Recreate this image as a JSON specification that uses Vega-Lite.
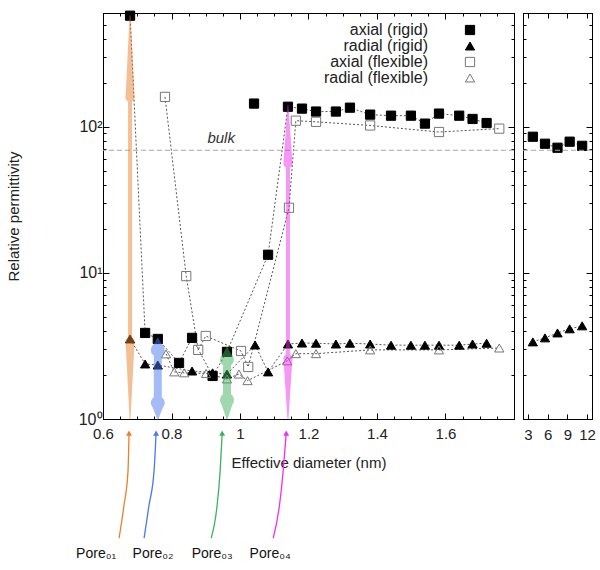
{
  "$schema": "https://vega.github.io/schema/vega-lite/v6.json",
  "padding": {"left": 5, "top": 4, "right": 5, "bottom": 5},
  "config": {
    "font": "Liberation Sans",
    "view": {"stroke": "black", "strokeWidth": 1},
    "axis": {"grid": false, "domainColor": "black", "tickColor": "black", "labelColor": "#222", "labelFontSize": 15, "titleFontSize": 15, "titleFontWeight": "normal", "titleColor": "#222", "labelFont": "Liberation Sans", "titleFont": "Liberation Sans", "labelFlush": false, "labelOverlap": false}
  },
  "datasets": {
    "main": [
      {"series": "axial (rigid)", "d": 0.679, "eps": 575, "seg": 1},
      {"series": "axial (rigid)", "d": 0.723, "eps": 3.88, "seg": 1},
      {"series": "axial (rigid)", "d": 0.76, "eps": 3.53, "seg": 1},
      {"series": "axial (rigid)", "d": 0.822, "eps": 2.42, "seg": 1},
      {"series": "axial (rigid)", "d": 0.86, "eps": 3.59, "seg": 1},
      {"series": "axial (rigid)", "d": 0.92, "eps": 1.97, "seg": 1},
      {"series": "axial (rigid)", "d": 0.962, "eps": 2.88, "seg": 1},
      {"series": "axial (rigid)", "d": 1.041, "eps": 144, "seg": 2},
      {"series": "axial (rigid)", "d": 1.082, "eps": 13.3, "seg": 1},
      {"series": "axial (rigid)", "d": 1.14, "eps": 137, "seg": 1},
      {"series": "axial (rigid)", "d": 1.181, "eps": 133, "seg": 1},
      {"series": "axial (rigid)", "d": 1.222, "eps": 127, "seg": 1},
      {"series": "axial (rigid)", "d": 1.28, "eps": 127, "seg": 1},
      {"series": "axial (rigid)", "d": 1.321, "eps": 135, "seg": 1},
      {"series": "axial (rigid)", "d": 1.38, "eps": 121, "seg": 1},
      {"series": "axial (rigid)", "d": 1.441, "eps": 119, "seg": 1},
      {"series": "axial (rigid)", "d": 1.499, "eps": 119, "seg": 1},
      {"series": "axial (rigid)", "d": 1.54, "eps": 105, "seg": 1},
      {"series": "axial (rigid)", "d": 1.581, "eps": 123, "seg": 1},
      {"series": "axial (rigid)", "d": 1.64, "eps": 119, "seg": 1},
      {"series": "axial (rigid)", "d": 1.679, "eps": 113, "seg": 1},
      {"series": "axial (rigid)", "d": 1.72, "eps": 106, "seg": 1},
      {"series": "radial (rigid)", "d": 0.679, "eps": 3.53, "seg": 1},
      {"series": "radial (rigid)", "d": 0.723, "eps": 2.38, "seg": 1},
      {"series": "radial (rigid)", "d": 0.76, "eps": 2.34, "seg": 1},
      {"series": "radial (rigid)", "d": 0.86, "eps": 2.13, "seg": 1},
      {"series": "radial (rigid)", "d": 0.92, "eps": 2.07, "seg": 1},
      {"series": "radial (rigid)", "d": 0.962, "eps": 2.03, "seg": 1},
      {"series": "radial (rigid)", "d": 1.044, "eps": 3.21, "seg": 1},
      {"series": "radial (rigid)", "d": 1.082, "eps": 2.1, "seg": 1},
      {"series": "radial (rigid)", "d": 1.14, "eps": 3.26, "seg": 1},
      {"series": "radial (rigid)", "d": 1.181, "eps": 3.31, "seg": 1},
      {"series": "radial (rigid)", "d": 1.222, "eps": 3.3, "seg": 1},
      {"series": "radial (rigid)", "d": 1.28, "eps": 3.26, "seg": 1},
      {"series": "radial (rigid)", "d": 1.321, "eps": 3.3, "seg": 1},
      {"series": "radial (rigid)", "d": 1.38, "eps": 3.26, "seg": 1},
      {"series": "radial (rigid)", "d": 1.441, "eps": 3.2, "seg": 1},
      {"series": "radial (rigid)", "d": 1.499, "eps": 3.2, "seg": 1},
      {"series": "radial (rigid)", "d": 1.54, "eps": 3.2, "seg": 1},
      {"series": "radial (rigid)", "d": 1.581, "eps": 3.2, "seg": 1},
      {"series": "radial (rigid)", "d": 1.64, "eps": 3.2, "seg": 1},
      {"series": "radial (rigid)", "d": 1.679, "eps": 3.26, "seg": 1},
      {"series": "radial (rigid)", "d": 1.72, "eps": 3.3, "seg": 1},
      {"series": "axial (flexible)", "d": 0.781, "eps": 160, "seg": 1},
      {"series": "axial (flexible)", "d": 0.843, "eps": 9.5, "seg": 1},
      {"series": "axial (flexible)", "d": 0.878, "eps": 2.97, "seg": 1},
      {"series": "axial (flexible)", "d": 0.9, "eps": 3.7, "seg": 1},
      {"series": "axial (flexible)", "d": 1.003, "eps": 2.92, "seg": 1},
      {"series": "axial (flexible)", "d": 1.024, "eps": 2.27, "seg": 1},
      {"series": "axial (flexible)", "d": 1.143, "eps": 27.9, "seg": 1},
      {"series": "axial (flexible)", "d": 1.163, "eps": 110, "seg": 1},
      {"series": "axial (flexible)", "d": 1.222, "eps": 108, "seg": 1},
      {"series": "axial (flexible)", "d": 1.38, "eps": 102, "seg": 1},
      {"series": "axial (flexible)", "d": 1.581, "eps": 92, "seg": 1},
      {"series": "axial (flexible)", "d": 1.757, "eps": 97, "seg": 1},
      {"series": "radial (flexible)", "d": 0.784, "eps": 2.79, "seg": 1},
      {"series": "radial (flexible)", "d": 0.808, "eps": 2.1, "seg": 1},
      {"series": "radial (flexible)", "d": 0.837, "eps": 2.07, "seg": 1},
      {"series": "radial (flexible)", "d": 0.901, "eps": 2.05, "seg": 1},
      {"series": "radial (flexible)", "d": 0.962, "eps": 1.88, "seg": 1},
      {"series": "radial (flexible)", "d": 0.997, "eps": 2.03, "seg": 1},
      {"series": "radial (flexible)", "d": 1.022, "eps": 1.83, "seg": 1},
      {"series": "radial (flexible)", "d": 1.138, "eps": 2.5, "seg": 1},
      {"series": "radial (flexible)", "d": 1.163, "eps": 2.8, "seg": 1},
      {"series": "radial (flexible)", "d": 1.222, "eps": 2.8, "seg": 1},
      {"series": "radial (flexible)", "d": 1.38, "eps": 2.97, "seg": 1},
      {"series": "radial (flexible)", "d": 1.581, "eps": 2.97, "seg": 1},
      {"series": "radial (flexible)", "d": 1.757, "eps": 3.06, "seg": 1}
    ],
    "wide": [
      {"series": "axial (rigid)", "d": 3.75, "eps": 85.4},
      {"series": "axial (rigid)", "d": 5.6, "eps": 76.5},
      {"series": "axial (rigid)", "d": 7.5, "eps": 71.8},
      {"series": "axial (rigid)", "d": 9.35, "eps": 79},
      {"series": "axial (rigid)", "d": 11.25, "eps": 74},
      {"series": "radial (rigid)", "d": 3.75, "eps": 3.37},
      {"series": "radial (rigid)", "d": 5.6, "eps": 3.59},
      {"series": "radial (rigid)", "d": 7.5, "eps": 3.88},
      {"series": "radial (rigid)", "d": 9.35, "eps": 4.14},
      {"series": "radial (rigid)", "d": 11.25, "eps": 4.34}
    ],
    "arrows": [
      {"pore": "Pore01", "d": 0.679, "eps": 575, "part": "tip", "k": 1},
      {"pore": "Pore01", "d": 0.679, "eps": 158, "part": "thin-head", "k": 2},
      {"pore": "Pore01", "d": 0.679, "eps": 150, "part": "thin-shaft", "k": 3},
      {"pore": "Pore01", "d": 0.679, "eps": 3.6, "part": "thin-shaft", "k": 4},
      {"pore": "Pore01", "d": 0.679, "eps": 3.4, "part": "thin-head", "k": 5},
      {"pore": "Pore01", "d": 0.679, "eps": 1, "part": "tip", "k": 6},
      {"pore": "Pore02", "d": 0.76, "eps": 3.6, "part": "tip", "k": 1},
      {"pore": "Pore02", "d": 0.76, "eps": 2.97, "part": "wide-head", "k": 2},
      {"pore": "Pore02", "d": 0.76, "eps": 2.87, "part": "wide-shaft", "k": 3},
      {"pore": "Pore02", "d": 0.76, "eps": 1.33, "part": "wide-shaft", "k": 4},
      {"pore": "Pore02", "d": 0.76, "eps": 1.29, "part": "wide-head", "k": 5},
      {"pore": "Pore02", "d": 0.76, "eps": 1, "part": "tip", "k": 6},
      {"pore": "Pore03", "d": 0.962, "eps": 3.1, "part": "tip", "k": 1},
      {"pore": "Pore03", "d": 0.962, "eps": 2.55, "part": "wide-head", "k": 2},
      {"pore": "Pore03", "d": 0.962, "eps": 2.45, "part": "wide-shaft", "k": 3},
      {"pore": "Pore03", "d": 0.962, "eps": 1.4, "part": "wide-shaft", "k": 4},
      {"pore": "Pore03", "d": 0.962, "eps": 1.35, "part": "wide-head", "k": 5},
      {"pore": "Pore03", "d": 0.962, "eps": 1, "part": "tip", "k": 6},
      {"pore": "Pore04", "d": 1.14, "eps": 140, "part": "tip", "k": 1},
      {"pore": "Pore04", "d": 1.14, "eps": 56, "part": "thin-head", "k": 2},
      {"pore": "Pore04", "d": 1.14, "eps": 54, "part": "thin-shaft", "k": 3},
      {"pore": "Pore04", "d": 1.14, "eps": 2.7, "part": "thin-shaft", "k": 4},
      {"pore": "Pore04", "d": 1.14, "eps": 2.6, "part": "thin-head", "k": 5},
      {"pore": "Pore04", "d": 1.14, "eps": 1, "part": "tip", "k": 6}
    ],
    "pointers": [
      {"pore": "Pore01", "d": 0.647, "eps": 0.153, "k": 1},
      {"pore": "Pore01", "d": 0.661, "eps": 0.254, "k": 2},
      {"pore": "Pore01", "d": 0.673, "eps": 0.44, "k": 3},
      {"pore": "Pore01", "d": 0.676, "eps": 0.8, "k": 4},
      {"pore": "Pore02", "d": 0.72, "eps": 0.153, "k": 1},
      {"pore": "Pore02", "d": 0.734, "eps": 0.254, "k": 2},
      {"pore": "Pore02", "d": 0.749, "eps": 0.44, "k": 3},
      {"pore": "Pore02", "d": 0.755, "eps": 0.8, "k": 4},
      {"pore": "Pore03", "d": 0.916, "eps": 0.153, "k": 1},
      {"pore": "Pore03", "d": 0.933, "eps": 0.254, "k": 2},
      {"pore": "Pore03", "d": 0.942, "eps": 0.44, "k": 3},
      {"pore": "Pore03", "d": 0.948, "eps": 0.8, "k": 4},
      {"pore": "Pore04", "d": 1.097, "eps": 0.153, "k": 1},
      {"pore": "Pore04", "d": 1.115, "eps": 0.254, "k": 2},
      {"pore": "Pore04", "d": 1.126, "eps": 0.44, "k": 3},
      {"pore": "Pore04", "d": 1.135, "eps": 0.8, "k": 4}
    ],
    "labels": [
      {"label": "Pore₀₁", "d": 0.58, "eps": 0.119},
      {"label": "Pore₀₂", "d": 0.746, "eps": 0.119},
      {"label": "Pore₀₃", "d": 0.919, "eps": 0.119},
      {"label": "Pore₀₄", "d": 1.088, "eps": 0.119}
    ]
  },
  "resolve": {"scale": {"x": "independent", "y": "independent", "shape": "independent", "fill": "independent", "stroke": "independent", "color": "independent", "size": "independent"}},
  "spacing": 7,
  "hconcat": [
    {
      "width": 411,
      "height": 406,
      "resolve": {"axis": {"x": "independent", "y": "independent"}},
      "layer": [
        {
          "data": {"name": "main"},
          "mark": {"type": "line", "stroke": "#555", "strokeWidth": 1, "strokeDash": [2, 2]},
          "encoding": {
            "x": {"field": "d", "type": "quantitative", "scale": {"domain": [0.6, 1.8], "nice": false, "zero": false},
              "axis": {"orient": "bottom", "values": [0.6,0.65,0.7,0.75,0.8,0.85,0.9,0.95,1,1.05,1.1,1.15,1.2,1.25,1.3,1.35,1.4,1.45,1.5,1.55,1.6,1.65,1.7,1.75,1.8],
                "labelExpr": "abs(datum.value*5-round(datum.value*5))<0.01 && datum.value<1.7 ? format(datum.value,'~g') : ''",
                "tickSize": {"condition": {"test": "abs(datum.value*5-round(datum.value*5))<0.01", "value": -6}, "value": -3},
                "labelPadding": 13, "title": "Effective diameter (nm)", "titlePadding": 11}},
            "y": {"field": "eps", "type": "quantitative", "scale": {"type": "log", "domain": [1, 600], "nice": false},
              "axis": {"orient": "left", "values": [1,2,3,4,5,6,7,8,9,10,20,30,40,50,60,70,80,90,100,200,300,400,500,600],
                "labelExpr": "datum.value==1?'10⁰':datum.value==10?'10¹':datum.value==100?'10²':''",
                "labelFontSize": 16,
                "tickSize": {"condition": {"test": "datum.value==1||datum.value==10||datum.value==100", "value": -6}, "value": -3},
                "labelPadding": 7, "title": "Relative permittivity", "titlePadding": 57}},
            "detail": [{"field": "series"}, {"field": "seg"}]
          }
        },
        {
          "data": {"name": "main"},
          "mark": {"type": "point", "size": 85, "strokeWidth": 1, "opacity": 1},
          "encoding": {
            "x": {"field": "d", "type": "quantitative",
              "axis": {"orient": "top", "values": [0.6,0.65,0.7,0.75,0.8,0.85,0.9,0.95,1,1.05,1.1,1.15,1.2,1.25,1.3,1.35,1.4,1.45,1.5,1.55,1.6,1.65,1.7,1.75,1.8], "labels": false, "title": null,
                "tickSize": {"condition": {"test": "abs(datum.value*5-round(datum.value*5))<0.01", "value": -6}, "value": -3}}},
            "y": {"field": "eps", "type": "quantitative",
              "axis": {"orient": "right", "values": [1,2,3,4,5,6,7,8,9,10,20,30,40,50,60,70,80,90,100,200,300,400,500,600], "labels": false, "title": null,
                "tickSize": {"condition": {"test": "datum.value==1||datum.value==10||datum.value==100", "value": -6}, "value": -3}}},
            "shape": {"field": "series", "type": "nominal",
              "scale": {"domain": ["axial (rigid)", "radial (rigid)", "axial (flexible)", "radial (flexible)"], "range": ["square", "triangle-up", "square", "triangle-up"]},
              "legend": {"title": null, "orient": "none", "legendX": 359, "legendY": 9, "labelAlign": "right", "labelOffset": -50, "labelFontSize": 16, "labelColor": "#222", "symbolSize": 85, "rowPadding": 0, "padding": 0, "symbolStrokeWidth": 1}},
            "fill": {"field": "series", "type": "nominal",
              "scale": {"domain": ["axial (rigid)", "radial (rigid)", "axial (flexible)", "radial (flexible)"], "range": ["black", "black", "transparent", "transparent"]}},
            "stroke": {"field": "series", "type": "nominal",
              "scale": {"domain": ["axial (rigid)", "radial (rigid)", "axial (flexible)", "radial (flexible)"], "range": ["black", "black", "#777", "#777"]}}
          }
        },
        {
          "data": {"values": [{"eps": 69}]},
          "mark": {"type": "rule", "stroke": "#aaa", "strokeWidth": 1, "strokeDash": [5, 3]},
          "encoding": {"y": {"field": "eps", "type": "quantitative", "axis": null}}
        },
        {
          "data": {"values": [{"label": "bulk", "d": 0.945, "eps": 84}]},
          "mark": {"type": "text", "fontSize": 15, "fontStyle": "italic", "color": "#333", "align": "center", "baseline": "middle"},
          "encoding": {
            "x": {"field": "d", "type": "quantitative", "axis": null},
            "y": {"field": "eps", "type": "quantitative", "axis": null},
            "text": {"field": "label"}
          }
        },
        {
          "data": {"name": "arrows"},
          "mark": {"type": "trail", "opacity": 0.5},
          "encoding": {
            "x": {"field": "d", "type": "quantitative", "axis": null},
            "y": {"field": "eps", "type": "quantitative", "axis": null},
            "detail": {"field": "pore"},
            "order": {"field": "k", "type": "quantitative"},
            "size": {"field": "part", "type": "ordinal", "scale": {"type": "ordinal", "domain": ["tip", "thin-head", "thin-shaft", "wide-head", "wide-shaft"], "range": [0, 9, 4, 14, 8]}, "legend": null},
            "color": {"field": "pore", "type": "nominal", "scale": {"domain": ["Pore01", "Pore02", "Pore03", "Pore04"], "range": ["#e8802e", "#4a78ee", "#3fb060", "#ee30ee"]}, "legend": null}
          }
        },
        {
          "data": {"name": "pointers"},
          "mark": {"type": "line", "strokeWidth": 1.3, "interpolate": "monotone"},
          "encoding": {
            "x": {"field": "d", "type": "quantitative", "axis": null},
            "y": {"field": "eps", "type": "quantitative", "axis": null},
            "order": {"field": "k", "type": "quantitative"},
            "color": {"field": "pore", "type": "nominal", "legend": null}
          }
        },
        {
          "data": {"name": "pointers"},
          "transform": [{"filter": "datum.k == 4"}],
          "mark": {"type": "point", "shape": "triangle-up", "filled": true, "size": 35, "opacity": 1},
          "encoding": {
            "x": {"field": "d", "type": "quantitative", "axis": null},
            "y": {"field": "eps", "type": "quantitative", "axis": null},
            "color": {"field": "pore", "type": "nominal", "legend": null}
          }
        },
        {
          "data": {"name": "labels"},
          "mark": {"type": "text", "fontSize": 14, "color": "#111", "align": "center", "baseline": "middle"},
          "encoding": {
            "x": {"field": "d", "type": "quantitative", "axis": null},
            "y": {"field": "eps", "type": "quantitative", "axis": null},
            "text": {"field": "label"}
          }
        }
      ]
    },
    {
      "width": 69,
      "height": 406,
      "resolve": {"axis": {"x": "independent", "y": "independent"}},
      "layer": [
        {
          "data": {"name": "wide"},
          "mark": {"type": "line", "stroke": "#555", "strokeWidth": 1, "strokeDash": [2, 2]},
          "encoding": {
            "x": {"field": "d", "type": "quantitative", "scale": {"domain": [2.25, 12.75], "nice": false, "zero": false},
              "axis": {"orient": "bottom", "values": [3, 6, 9, 12], "tickSize": -5, "labelPadding": 13, "title": null, "format": "d"}},
            "y": {"field": "eps", "type": "quantitative", "scale": {"type": "log", "domain": [1, 600], "nice": false},
              "axis": {"orient": "left", "values": [1,2,3,4,5,6,7,8,9,10,20,30,40,50,60,70,80,90,100,200,300,400,500,600], "labels": false, "title": null,
                "tickSize": {"condition": {"test": "datum.value==1||datum.value==10||datum.value==100", "value": -6}, "value": -3}}},
            "detail": {"field": "series"}
          }
        },
        {
          "data": {"name": "wide"},
          "mark": {"type": "point", "size": 85, "strokeWidth": 1, "opacity": 1},
          "encoding": {
            "x": {"field": "d", "type": "quantitative",
              "axis": {"orient": "top", "values": [3, 6, 9, 12], "labels": false, "title": null, "tickSize": -5}},
            "y": {"field": "eps", "type": "quantitative",
              "axis": {"orient": "right", "values": [1,2,3,4,5,6,7,8,9,10,20,30,40,50,60,70,80,90,100,200,300,400,500,600], "labels": false, "title": null,
                "tickSize": {"condition": {"test": "datum.value==1||datum.value==10||datum.value==100", "value": -6}, "value": -3}}},
            "shape": {"field": "series", "type": "nominal",
              "scale": {"domain": ["axial (rigid)", "radial (rigid)", "axial (flexible)", "radial (flexible)"], "range": ["square", "triangle-up", "square", "triangle-up"]}, "legend": null},
            "fill": {"field": "series", "type": "nominal",
              "scale": {"domain": ["axial (rigid)", "radial (rigid)", "axial (flexible)", "radial (flexible)"], "range": ["black", "black", "transparent", "transparent"]}, "legend": null},
            "stroke": {"field": "series", "type": "nominal",
              "scale": {"domain": ["axial (rigid)", "radial (rigid)", "axial (flexible)", "radial (flexible)"], "range": ["black", "black", "#777", "#777"]}, "legend": null}
          }
        },
        {
          "data": {"values": [{"eps": 69}]},
          "mark": {"type": "rule", "stroke": "#aaa", "strokeWidth": 1, "strokeDash": [5, 3]},
          "encoding": {"y": {"field": "eps", "type": "quantitative", "axis": null}}
        }
      ]
    }
  ]
}
